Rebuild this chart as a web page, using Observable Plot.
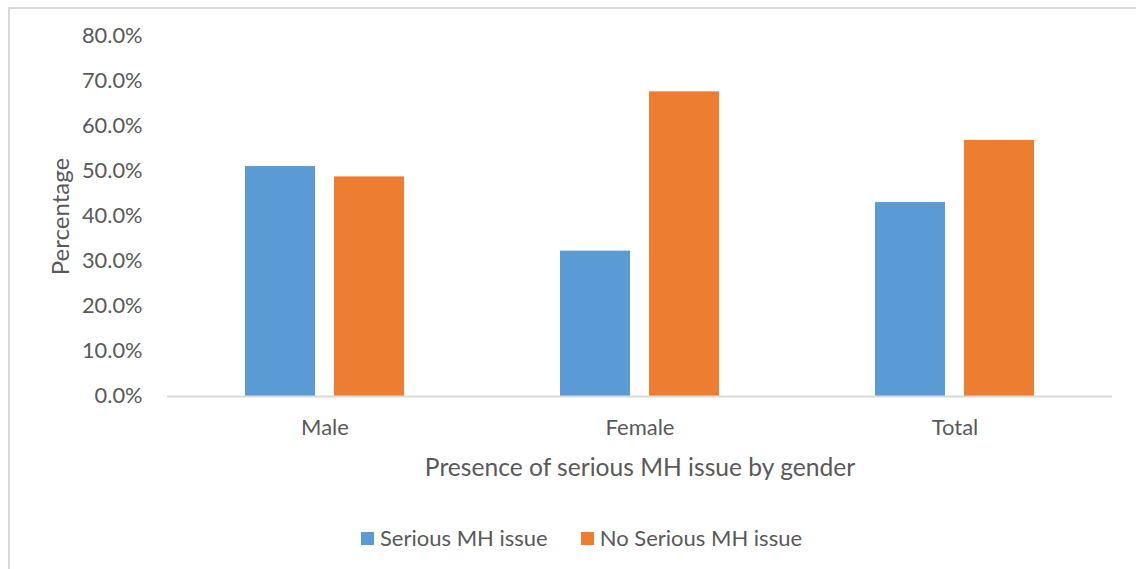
<!DOCTYPE html>
<html>
<head>
<meta charset="utf-8">
<script src="https://cdn.jsdelivr.net/npm/d3@7"></script>
<script src="https://cdn.jsdelivr.net/npm/@observablehq/plot@0.6"></script>
<style>
  body { margin: 0; background: #fff; }
  #chart { position: relative; width: 1136px; height: 569px; overflow: hidden; font-family: Lato, "Open Sans", sans-serif; color: #595959; }
  #frame { position: absolute; left: 8px; top: 7px; width: 1400px; height: 900px; border: 2px solid #d9d9d9; box-sizing: border-box; }
  #plot { position: absolute; left: 0; top: 0; }
  #legend { position: absolute; left: 361px; top: 527px; display: flex; align-items: center; font-size: 22px; line-height: 22px; }
  .item { display: flex; align-items: center; }
  .swatch { width: 13px; height: 13px; margin-right: 6px; }
</style>
</head>
<body>
<div id="chart">
  <div id="frame"></div>
  <div id="plot"></div>
  <div id="legend"></div>
</div>
<script>
// Share of respondents with / without a serious mental-health issue, by gender (%)
const groups = ["Male", "Female", "Total"];
const seriesNames = ["Serious MH issue", "No Serious MH issue"];
const serious = [51.1, 32.3, 43.1];
const noSerious = [48.8, 67.7, 56.9];
const yTicks = [0, 10, 20, 30, 40, 50, 60, 70, 80];
const colors = ["#5b9bd5", "#ed7d31"];

const rows = groups.flatMap((g, i) => [
  {group: g, series: seriesNames[0], value: serious[i]},
  {group: g, series: seriesNames[1], value: noSerious[i]}
]);

const chart = Plot.plot({
  width: 1136,
  height: 500,
  marginTop: 36,
  marginBottom: 104,
  marginLeft: 166,
  marginRight: 24,
  style: {fontFamily: "Lato, 'Open Sans', sans-serif", fontSize: "21px", color: "#595959", background: "transparent"},
  fx: {domain: groups, padding: 0},
  x: {domain: seriesNames, paddingInner: 0.21, paddingOuter: 0.86, axis: null},
  y: {domain: [0, 80]},
  color: {domain: seriesNames, range: colors},
  marks: [
    // value ticks
    Plot.axisY({
      ticks: yTicks,
      tickFormat: d => d.toFixed(1) + "%",
      tickSize: 0,
      tickPadding: 25,
      fontSize: 21.8,
      label: null
    }),
    // vertical title
    Plot.axisY({
      ticks: [],
      label: "Percentage",
      labelAnchor: "center",
      labelOffset: 116,
      labelArrow: "none",
      fontSize: 24
    }),
    // category names
    Plot.axisFx({
      anchor: "bottom",
      tickSize: 0,
      tickPadding: 23,
      fontSize: 22,
      label: null
    }),
    // horizontal title
    Plot.axisFx({
      anchor: "bottom",
      ticks: [],
      label: "Presence of serious MH issue by gender",
      labelAnchor: "center",
      labelOffset: 79,
      labelArrow: "none",
      fontSize: 24.6
    }),
    Plot.barY(rows, {fx: "group", x: "series", y: "value", fill: "series"}),
    Plot.ruleY([0], {stroke: "#d9d9d9", strokeWidth: 2})
  ]
});
document.getElementById("plot").appendChild(chart);

// Legend below the plot
const legend = d3.select("#legend");
seriesNames.forEach((name, i) => {
  const item = legend.append("div").attr("class", "item").style("margin-right", i === 0 ? "33px" : "0");
  item.append("div").attr("class", "swatch").style("background", colors[i]);
  item.append("span").text(name);
});
</script>
</body>
</html>
